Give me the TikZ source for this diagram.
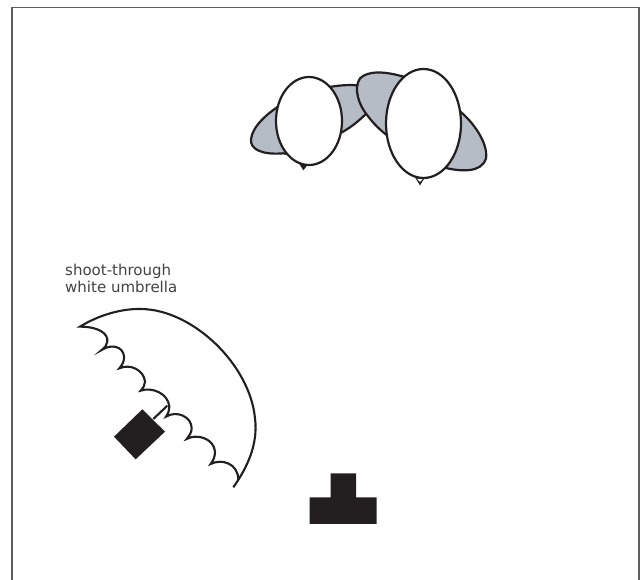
\documentclass[tikz,border=0pt]{standalone}
\usepackage{fontspec}
\setmainfont{DejaVu Sans}
\definecolor{ink}{HTML}{231F20}
\definecolor{shade}{HTML}{B5BCC5}
\definecolor{framec}{HTML}{5F5F5F}
\tikzset{
  framel/.style={draw=framec,line width=1.4pt},
  blob/.style={draw=ink,line width=2.2pt,fill=shade,line join=round},
  balloon/.style={draw=ink,line width=2.2pt,fill=white},
  solid shape/.style={fill=ink,draw=none},
  curve/.style={draw=ink,line width=2.1pt,line join=miter},
  labeltext/.style={text=ink!85,font=\fontsize{15}{18}\selectfont,anchor=base west,inner sep=0pt}
}
\begin{document}
\begin{tikzpicture}[x=1pt,y=-1pt]
\useasboundingbox (0,0) rectangle (641,580);
\fill[white] (0,0) rectangle (641,580);
\draw[framel] (12,580) -- (12,7.5) -- (639,7.5) -- (639,580);
% lights behind balloons
\begin{scope}[shift={(240,60)},x=.33333pt,y=-.33333pt]
\draw[blob] (130,280) .. controls (70,285) and (30,270) .. (33,238)
  .. controls (37,200) and (80,160) .. (130,130)
  .. controls (180,95) and (290,70) .. (350,76)
  .. controls (380,80) and (395,120) .. (385,155)
  .. controls (360,180) and (330,205) .. (300,220) -- (200,290) -- cycle;
\draw[blob] (610,322) .. controls (660,335) and (725,340) .. (738,295)
  .. controls (745,250) and (700,185) .. (655,150)
  .. controls (600,100) and (530,60) .. (490,50)
  .. controls (440,35) and (385,30) .. (360,55)
  .. controls (340,85) and (355,135) .. (385,170)
  .. controls (400,190) and (420,210) .. (440,225) -- (520,320) -- cycle;
\fill[ink] (178,312) -- (190,331) -- (205,312) -- cycle;
\fill[ink] (525,352) -- (540,376) -- (555,352) -- cycle;
\fill[white] (531,356) -- (540,366) -- (549,356) -- cycle;
\end{scope}
\draw[balloon] (309,121) ellipse [x radius=33,y radius=44];
\draw[balloon] (423.5,123.5) ellipse [x radius=37.5,y radius=54.5];
% umbrella
\begin{scope}[shift={(50,255)},x=.33333pt,y=-.33333pt]
\fill[solid shape] (277,463) -- (345,530) -- (257,613) -- (192,545) -- cycle;
\draw[ink,line width=2.1pt] (310,492) -- (352,452);
\draw[curve] (550,697) .. controls (590,640) and (625,570) .. (615,490)
  .. controls (600,330) and (430,165) .. (275,162)
  .. controls (200,160) and (130,190) .. (90,215)
  .. controls (145,215) and (175,235) .. (172,260)
  .. controls (171,270) and (165,277) .. (155,285)
  .. controls (185,265) and (220,275) .. (222,305)
  .. controls (223,318) and (217,330) .. (208,340)
  .. controls (240,325) and (282,345) .. (285,380)
  .. controls (285,390) and (280,398) .. (272,407)
  .. controls (305,395) and (355,415) .. (358,455)
  .. controls (358,465) and (355,475) .. (348,485)
  .. controls (380,465) and (425,485) .. (425,520)
  .. controls (425,532) and (418,542) .. (410,552)
  .. controls (440,535) and (492,550) .. (495,590)
  .. controls (495,605) and (490,617) .. (482,627)
  .. controls (515,610) and (565,625) .. (565,675);
\end{scope}
% camera
\fill[solid shape] (330.7,473.3) -- (356,473.3) -- (356,497.5) -- (376.7,497.5) -- (376.7,524) -- (309.5,524) -- (309.5,497.5) -- (330.7,497.5) -- cycle;
\node[labeltext] (l1) at (65,275.5) {shoot-through};
\node[labeltext] (l2) at (65,293) {white umbrella};
\end{tikzpicture}
\end{document}
